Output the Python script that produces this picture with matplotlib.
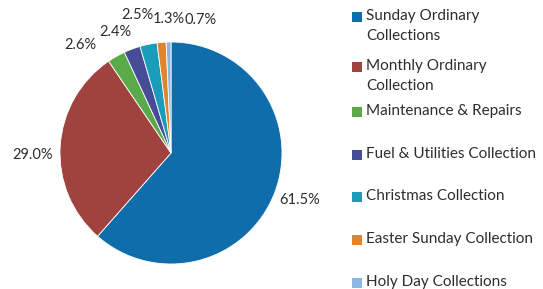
import matplotlib
matplotlib.use('Agg')
import matplotlib.pyplot as plt
from matplotlib.patches import Rectangle

plt.rcParams['font.family'] = ['Lato', 'DejaVu Sans']

categories = ['Sunday Ordinary\nCollections', 'Monthly Ordinary\nCollection',
              'Maintenance & Repairs', 'Fuel & Utilities Collection',
              'Christmas Collection', 'Easter Sunday Collection',
              'Holy Day Collections']
values = [61.5, 29.0, 2.6, 2.4, 2.5, 1.3, 0.7]
colors = ['#0F6DAB', '#A0433F', '#5BAA4A', '#474C96', '#1A9DBA', '#E0842E', '#8BB8E0']

W, H = 543, 289
fig = plt.figure(figsize=(W / 100, H / 100), dpi=100)
# pie centre at (171, 153) px, radius 111 px
ax = fig.add_axes([(171 - 111) / W, (H - 153 - 111) / H, 222 / W, 222 / H])

wedges, texts = ax.pie(values, colors=colors, startangle=90, counterclock=False,
                       labels=['%.1f%%' % v for v in values], labeldistance=1.2,
                       wedgeprops=dict(linewidth=0.6, edgecolor='white'),
                       textprops=dict(fontsize=10.5, color='#2d2d2d'))
ax.set_xlim(-1, 1)
ax.set_ylim(-1, 1)
ax.set_aspect('equal')

# label spots near where the original puts them (data units, radius = 1)
label_pos = [(1.16, -0.42), (-1.25, -0.02), (-0.82, 0.97), (-0.50, 1.09),
             (-0.30, 1.24), (-0.02, 1.21), (0.27, 1.20)]
for t, (x, y) in zip(texts, label_pos):
    t.set_position((x, y))
    t.set_ha('center')
    t.set_va('center')

# legend, drawn by hand to keep the original's uneven spacing
entry_y = [17, 67, 112, 155, 197, 240, 283]
for lab, col, y in zip(categories, colors, entry_y):
    fig.patches.append(Rectangle((352 / W, 1 - (y + 5) / H), 10 / W, 10 / H,
                                 transform=fig.transFigure, facecolor=col,
                                 edgecolor='none'))
    fig.text(366 / W, 1 - (y - 8) / H, lab, fontsize=11, color='#2d2d2d',
             ha='left', va='top', linespacing=1.55)

fig.savefig('out.png', dpi=100)
